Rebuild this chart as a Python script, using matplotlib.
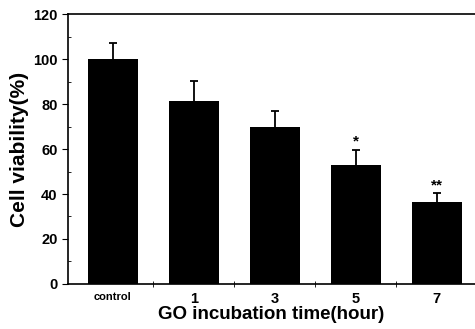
import matplotlib.pyplot as plt
from matplotlib.ticker import MultipleLocator, FixedLocator

plt.rcParams.update({'font.family': 'Liberation Sans', 'font.weight': 'bold'})

groups = ['control', '1', '3', '5', '7']
viability = [100, 81.5, 69.6, 53.0, 36.3]
errors = [7.2, 8.7, 7.3, 6.6, 4.0]
marks = ['', '', '', '*', '**']

fig = plt.figure(figsize=(4.75, 3.29), dpi=100)
ax = fig.add_axes([0.143, 0.137, 0.857, 0.82])

x = list(range(len(groups)))
tops = [v + e for v, e in zip(viability, errors)]
ax.bar(x, viability, width=0.62, color='black', zorder=3)
ax.vlines(x, viability, tops, color='black', linewidth=1.3, zorder=2)
ax.scatter(x, tops, marker='_', s=40, color='black', linewidths=1.3, zorder=2)
for xi, t, m in zip(x, tops, marks):
    if m:
        ax.text(xi, t + 0.5, m, ha='center', va='bottom', fontsize=11, fontweight='bold')

ax.set_xlim(-0.556, 4.47)
ax.set_ylim(0, 120)
ax.set_xticks(x)
ax.set_xticklabels(groups)
for lbl in ax.get_xticklabels():
    lbl.set_fontsize(8 if lbl.get_text() == 'control' else 10.5)
ax.xaxis.set_minor_locator(FixedLocator([0.5, 1.5, 2.5, 3.5]))
ax.tick_params(axis='x', which='major', length=0, pad=6)
ax.tick_params(axis='x', which='minor', direction='inout', length=5)
ax.yaxis.set_major_locator(MultipleLocator(20))
ax.yaxis.set_minor_locator(MultipleLocator(10))
ax.tick_params(axis='y', which='major', direction='out', length=4, labelsize=10.5)
ax.tick_params(axis='y', which='minor', direction='in', length=2)
ax.spines['right'].set_visible(False)
for s in ['left', 'bottom', 'top']:
    ax.spines[s].set_linewidth(1.2)

ax.set_ylabel('Cell viability(%)', fontsize=15, fontweight='bold', labelpad=3)
ax.set_xlabel('GO incubation time(hour)', fontsize=13.5, fontweight='bold', labelpad=0)

fig.savefig('out.png', dpi=100)
